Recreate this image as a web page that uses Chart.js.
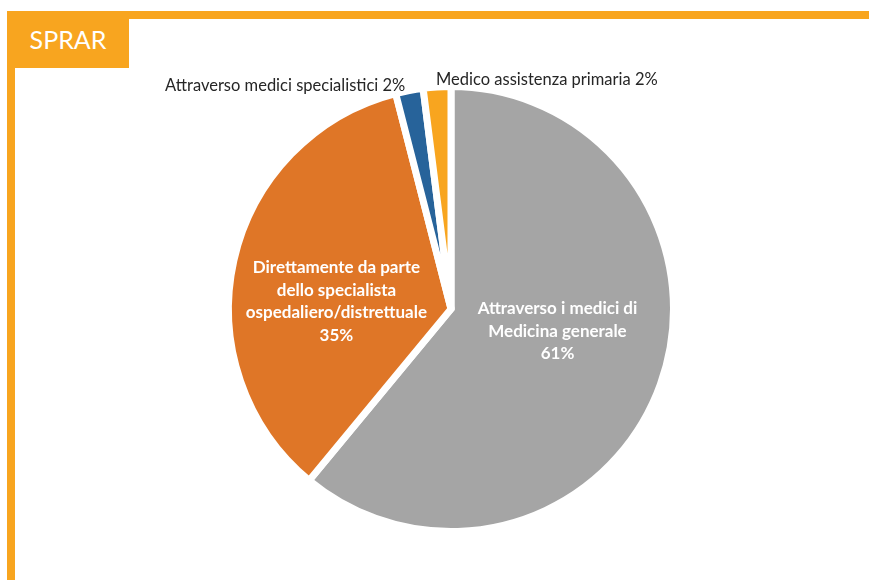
<!DOCTYPE html>
<html>
<head>
<meta charset="utf-8">
<script src="https://cdn.jsdelivr.net/npm/chart.js@4.4.1/dist/chart.umd.min.js"></script>
<style>
  html, body { margin: 0; padding: 0; background: #fff; width: 869px; height: 580px; overflow: hidden; }
  #wrap { position: relative; width: 869px; height: 580px; }
  .bar-top { position: absolute; left: 7px; top: 11px; width: 862px; height: 8px; background: #F8A51F; }
  .bar-left { position: absolute; left: 7px; top: 11px; width: 8px; height: 569px; background: #F8A51F; }
  .tag { position: absolute; left: 7px; top: 11px; width: 122px; height: 57px; background: #F8A51F;
         color: #fff; font-family: Lato, "Open Sans", sans-serif; font-size: 25px; line-height: 57px; text-align: center; }
  canvas { position: absolute; left: 0; top: 0; }
</style>
</head>
<body>
<div id="wrap">
  <div class="bar-top"></div>
  <div class="bar-left"></div>
  <div class="tag">SPRAR</div>
  <canvas id="c" width="869" height="580"></canvas>
</div>
<script>
const categories = [
  "Attraverso i medici di Medicina generale",
  "Direttamente da parte dello specialista ospedaliero/distrettuale",
  "Attraverso medici specialistici",
  "Medico assistenza primaria"
];
const values = [61, 35, 2, 2];
const labelLines = [
  ["Attraverso i medici di", "Medicina generale", "61%"],
  ["Direttamente da parte", "dello specialista", "ospedaliero/distrettuale", "35%"],
  ["Attraverso medici specialistici 2%"],
  ["Medico assistenza primaria 2%"]
];
const colors = ["#A5A5A5", "#DF7627", "#27639A", "#F8A51F"];

// label placement settings (style/position, not data)
const labelCfg = [
  { inside: true, frac: 0.48, dx: 6, dy: -14 },
  { inside: true, frac: 0.5, dx: -6, dy: 17 },
  { inside: false, align: "right", dx: -4, dy: -5 },
  { inside: false, align: "left", dx: -1, dy: -7 }
];

const labelPlugin = {
  id: "sliceLabels",
  afterDatasetsDraw(chart) {
    const ctx = chart.ctx;
    const meta = chart.getDatasetMeta(0);
    meta.data.forEach((arc, i) => {
      const p = arc.getProps(["x", "y", "startAngle", "endAngle", "outerRadius"], true);
      const mid = (p.startAngle + p.endAngle) / 2;
      const cfg = labelCfg[i];
      const lines = labelLines[i];
      ctx.save();
      ctx.textBaseline = "middle";
      if (cfg.inside) {
        const r = p.outerRadius * cfg.frac;
        const cx = p.x + Math.cos(mid) * r + cfg.dx;
        const cy = p.y + Math.sin(mid) * r + cfg.dy;
        ctx.font = "bold 17px Lato, 'Open Sans', sans-serif";
        ctx.fillStyle = "#ffffff";
        ctx.textAlign = "center";
        const lh = 22.5;
        const top = cy - (lines.length - 1) * lh / 2;
        lines.forEach((t, k) => ctx.fillText(t, cx, top + k * lh));
      } else {
        const r = p.outerRadius;
        const x = p.x + Math.cos(mid) * r + cfg.dx;
        const y = p.y + Math.sin(mid) * r + cfg.dy;
        ctx.font = "16.5px Lato, 'Open Sans', sans-serif";
        ctx.fillStyle = "#262626";
        ctx.textAlign = cfg.align;
        ctx.fillText(lines[0], x, y);
      }
      ctx.restore();
    });
  }
};

new Chart(document.getElementById("c"), {
  type: "pie",
  data: {
    labels: categories,
    datasets: [{
      data: values,
      backgroundColor: colors,
      borderColor: "#ffffff",
      borderWidth: 7,
      borderJoinStyle: "miter"
    }]
  },
  options: {
    responsive: false,
    animation: false,
    layout: { padding: { left: 225, top: 83, right: 192, bottom: 45 } },
    plugins: {
      legend: { display: false },
      tooltip: { enabled: false }
    }
  },
  plugins: [labelPlugin]
});
</script>
</body>
</html>
